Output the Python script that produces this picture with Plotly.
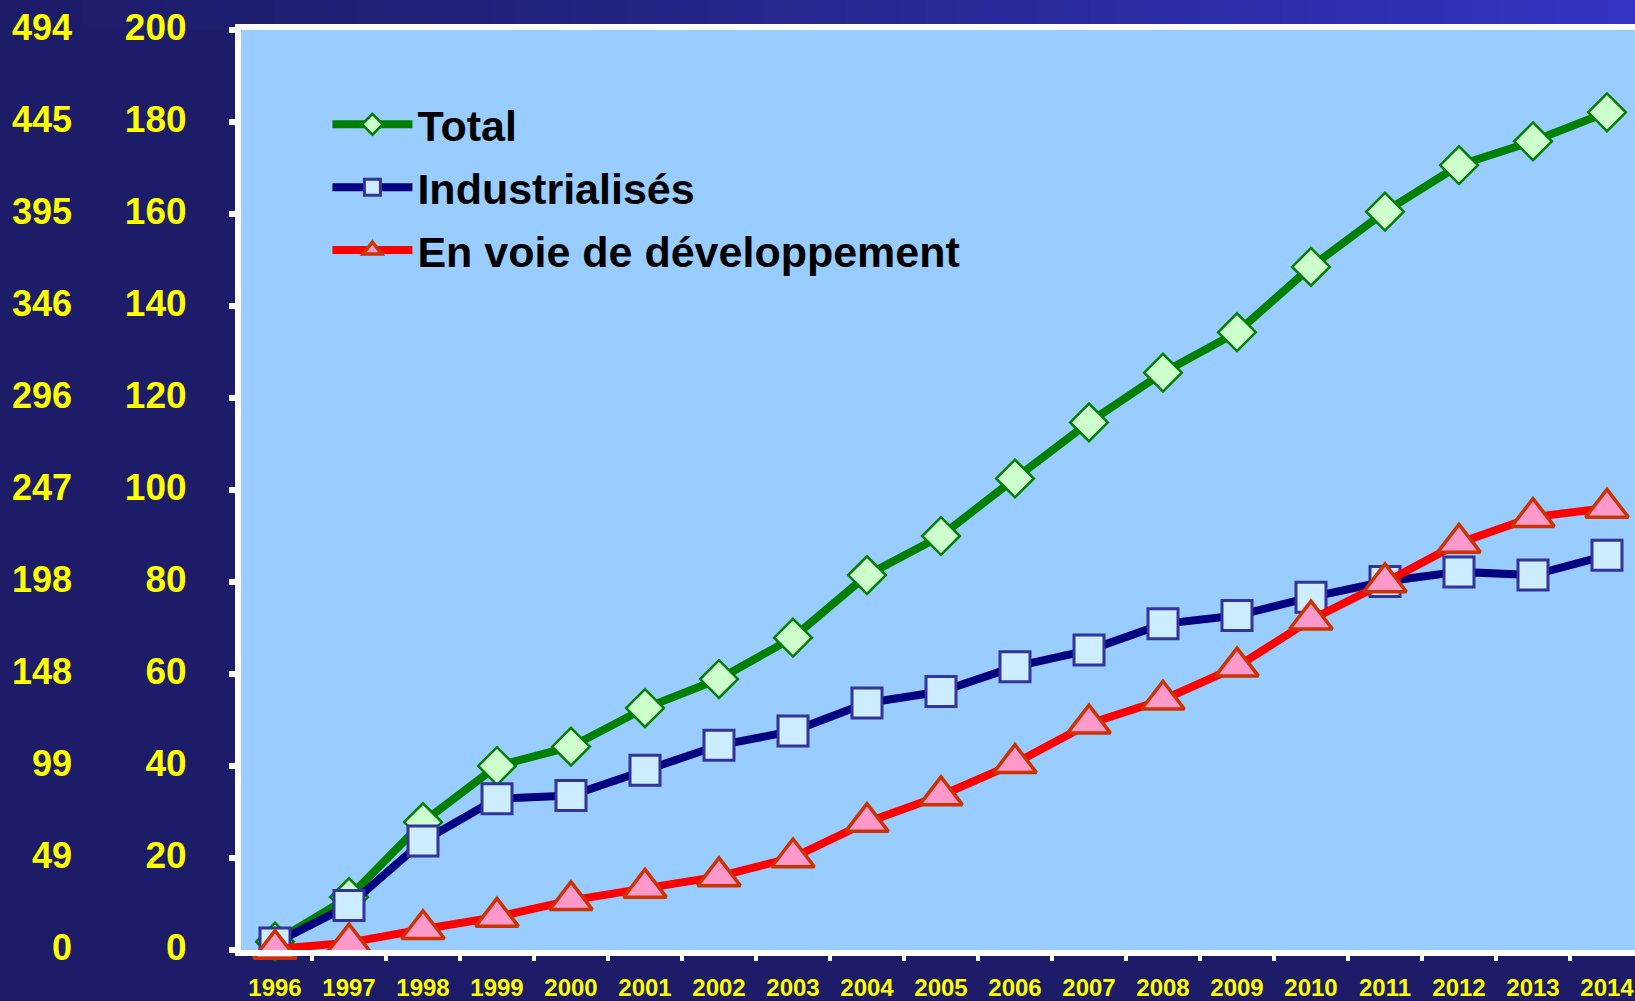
import plotly.graph_objects as go

# ---- data (million hectares) ----
years = ["1996", "1997", "1998", "1999", "2000", "2001", "2002", "2003", "2004", "2005",
         "2006", "2007", "2008", "2009", "2010", "2011", "2012", "2013", "2014"]
total = [1.8, 11.5, 27.8, 40.0, 44.2, 52.6, 58.9, 67.9, 81.5, 90.0,
         102.5, 114.7, 125.5, 134.3, 148.5, 160.5, 170.6, 175.8, 182.1]
industrialises = [1.5, 9.7, 23.7, 32.9, 33.6, 39.1, 44.5, 47.6, 53.7, 56.2,
                  61.6, 65.2, 70.9, 72.7, 76.7, 80.1, 82.2, 81.5, 85.8]
developpement = [0.2, 1.6, 4.5, 7.2, 10.8, 13.5, 16.0, 20.1, 27.8, 33.6,
                 40.6, 49.2, 54.4, 61.6, 71.8, 79.9, 88.5, 94.1, 96.1]

hectare_ticks = [0, 20, 40, 60, 80, 100, 120, 140, 160, 180, 200]
hectare_labels = ["0", "20", "40", "60", "80", "100", "120", "140", "160", "180", "200"]
acre_labels = ["0", "49", "99", "148", "198", "247", "296", "346", "395", "445", "494"]

series_names = ["Total", "Industrialisés", "En voie de développement"]

W, H = 1635, 1001
ML, MR, MT, MB = 241, 0, 30, 51
PLOT_W = W - ML - MR
CAT_PX = 74.0

FONT = "Arial, Liberation Sans, sans-serif"
YELLOW = "#FFFF00"
NAVY_BG = "#1C1C68"

fig = go.Figure()

fig.add_trace(go.Scatter(
    x=years, y=total, name=series_names[0], mode="lines+markers",
    legendgroup="g1", cliponaxis=False,
    line=dict(color="#008000", width=8),
    marker=dict(symbol="diamond", size=29, color="#CCFFCC",
                line=dict(color="#008000", width=2.5)),
))
fig.add_trace(go.Scatter(
    x=years, y=industrialises, name=series_names[1], mode="lines+markers",
    legendgroup="g2", cliponaxis=False,
    line=dict(color="#000080", width=8),
    marker=dict(symbol="square", size=30, color="#CCECFF",
                line=dict(color="#333399", width=3)),
))
fig.add_trace(go.Scatter(
    x=years, y=developpement, name=series_names[2], mode="lines+markers",
    legendgroup="g3", cliponaxis=False,
    line=dict(color="#FF0000", width=8),
    marker=dict(symbol="triangle-up", size=37, color="#FF99CC",
                line=dict(color="#CC3300", width=3.5)),
))

# top background gradient strip (decoration)
def lerp(c1, c2, t):
    a = [int(c1[i:i + 2], 16) for i in (1, 3, 5)]
    b = [int(c2[i:i + 2], 16) for i in (1, 3, 5)]
    return "#%02x%02x%02x" % tuple(round(a[k] + (b[k] - a[k]) * t) for k in range(3))

shapes = []
n = 60
x_left = -ML / PLOT_W
for i in range(n):
    t0 = i / n
    t1 = (i + 1) / n
    shapes.append(dict(
        type="rect", xref="paper", yref="paper", layer="below",
        x0=x_left + (1 - x_left) * t0, x1=x_left + (1 - x_left) * t1 + 0.002,
        y0=1.0, y1=1.05, line=dict(width=0),
        fillcolor=lerp(NAVY_BG, "#3434C4", t0 ** 1.2),
    ))

# outer (acres) axis labels
annotations = []
for v, lab in zip(hectare_ticks, acre_labels):
    annotations.append(dict(
        xref="paper", yref="y", x=(74 - ML) / PLOT_W, y=v, yshift=3,
        text=lab, showarrow=False, xanchor="right", yanchor="middle",
        font=dict(family=FONT, size=36, color=YELLOW, weight="bold"),
    ))

x_start = -0.5 + 3.0 / CAT_PX
x_end = x_start + PLOT_W / CAT_PX

fig.update_layout(
    width=W, height=H,
    margin=dict(l=ML, r=MR, t=MT, b=MB),
    paper_bgcolor=NAVY_BG,
    plot_bgcolor="#99CCFF",
    shapes=shapes,
    annotations=annotations,
    showlegend=True,
    legend=dict(
        x=0.062, y=0.935, xanchor="left", yanchor="top",
        bgcolor="rgba(0,0,0,0)", borderwidth=0,
        font=dict(family=FONT, size=43, color="#000000", weight="bold"),
        tracegroupgap=4, itemwidth=80,
    ),
    xaxis=dict(
        type="category", range=[x_start, x_end],
        tickson="boundaries", ticks="outside", ticklen=5, tickwidth=4, tickcolor="#FFFFFF",
        showline=True, linecolor="#FFFFFF", linewidth=6, mirror=True,
        showgrid=False, zeroline=False,
        tickfont=dict(family=FONT, size=24, color=YELLOW, weight="bold"),
        ticklabelstandoff=11,
        fixedrange=True,
    ),
    yaxis=dict(
        range=[0, 200], tickvals=hectare_ticks, ticktext=hectare_labels,
        ticks="outside", ticklen=6, tickwidth=6, tickcolor="#FFFFFF",
        showline=True, linecolor="#FFFFFF", linewidth=6,
        showgrid=False, zeroline=False,
        tickfont=dict(family=FONT, size=37, color=YELLOW, weight="bold"),
        ticklabelstandoff=35, ticklabelshift=-3,
        fixedrange=True,
    ),
)

fig.write_html(
    "out.html",
    config={"displayModeBar": False},
    post_script="document.body.style.margin='0';document.body.style.background='#1C1C68';",
)
